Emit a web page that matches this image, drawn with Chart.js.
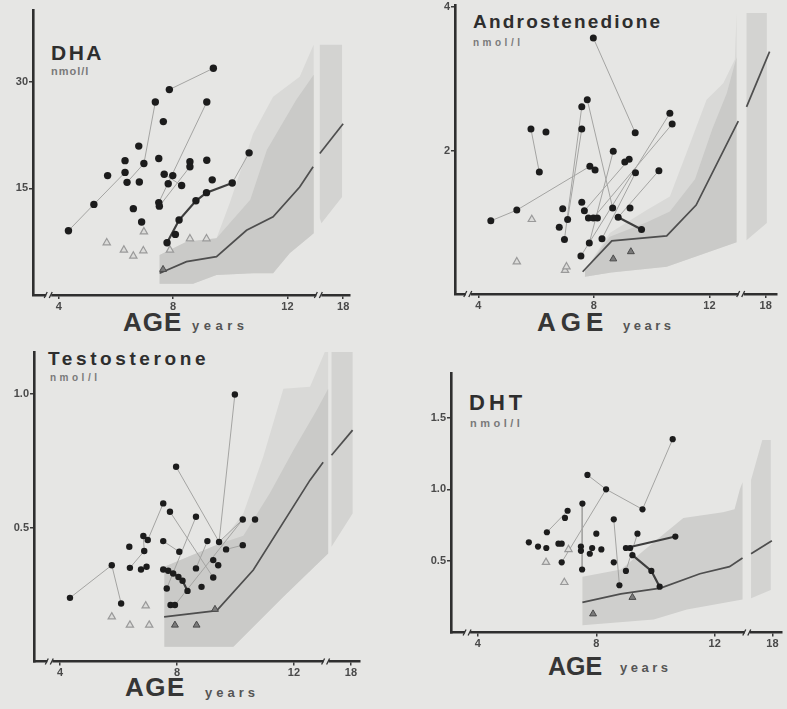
<!DOCTYPE html>
<html>
<head>
<meta charset="utf-8">
<script src="https://cdn.jsdelivr.net/npm/chart.js@4.4.1/dist/chart.umd.min.js"></script>
<style>
  html, body { margin: 0; padding: 0; }
  body { width: 787px; height: 709px; overflow: hidden; position: relative; background: #e6e6e4;
         font-family: "Liberation Sans", Arial, sans-serif; }
  canvas { position: absolute; }
  .lbl { position: absolute; font-weight: bold; white-space: nowrap; line-height: 1; }
  .title { color: #2e2e2e; }
  .unit { color: #7a7a7a; }
  .age { color: #363636; }
  .yrs { color: #555; }
</style>
</head>
<body>

<div class="lbl title" style="left:51px;top:42px;font-size:21px;letter-spacing:2.5px">DHA</div>
<div class="lbl unit"  style="left:51px;top:66px;font-size:11px;letter-spacing:1px">nmol/l</div>
<div class="lbl age"   style="left:123px;top:309px;font-size:26px;letter-spacing:1px">AGE</div>
<div class="lbl yrs"   style="left:192px;top:319px;font-size:13px;letter-spacing:4.5px">years</div>

<div class="lbl title" style="left:473px;top:12px;font-size:19px;letter-spacing:2.2px">Androstenedione</div>
<div class="lbl unit"  style="left:473px;top:38px;font-size:10px;letter-spacing:3.5px">nmol/l</div>
<div class="lbl age"   style="left:537px;top:309px;font-size:26px;letter-spacing:5px">AGE</div>
<div class="lbl yrs"   style="left:623px;top:319px;font-size:13px;letter-spacing:3.5px">years</div>

<div class="lbl title" style="left:48px;top:349px;font-size:19px;letter-spacing:3.6px">Testosterone</div>
<div class="lbl unit"  style="left:50px;top:373px;font-size:10px;letter-spacing:3.5px">nmol/l</div>
<div class="lbl age"   style="left:125px;top:674px;font-size:26px;letter-spacing:1.5px">AGE</div>
<div class="lbl yrs"   style="left:205px;top:686px;font-size:13px;letter-spacing:4px">years</div>

<div class="lbl title" style="left:469px;top:392px;font-size:22px;letter-spacing:4px">DHT</div>
<div class="lbl unit"  style="left:470px;top:418px;font-size:11px;letter-spacing:3.5px">nmol/l</div>
<div class="lbl age"   style="left:548px;top:654px;font-size:25px;letter-spacing:0px">AGE</div>
<div class="lbl yrs"   style="left:620px;top:661px;font-size:13px;letter-spacing:3.5px">years</div>

<canvas id="cDHA"></canvas>
<canvas id="cAND"></canvas>
<canvas id="cTES"></canvas>
<canvas id="cDHT"></canvas>

<script>
// ---------- shared age axis ----------
const xTickAges = [4, 8, 12, 18];
const xTickLabels = ['4', '8', '12', '18'];

// ---------- DHA (nmol/l) ----------
const dhaYTicks = [15, 30];
const dhaYLabels = ['15', '30'];
const dhaAge = [4.34, 5.23, 5.71, 6.32, 6.32, 6.39, 6.61, 6.80, 6.82, 6.98,
                6.90, 7.38, 7.66, 7.50, 7.50, 7.52, 7.69, 7.83, 7.87, 7.99,
                7.79, 8.08, 8.21, 8.30, 8.59, 8.59, 8.80, 9.17, 9.18, 9.18,
                9.37, 9.41, 10.07, 10.66];
const dhaVal = [9.05, 12.75, 16.8, 18.9, 17.25, 15.85, 12.15, 20.95, 15.9, 18.5,
                10.27, 27.15, 24.4, 19.2, 13.0, 12.5, 17.0, 15.65, 28.9, 16.8,
                7.36, 8.53, 10.55, 15.4, 18.75, 18.05, 13.26, 14.4, 18.95, 27.15,
                16.2, 31.9, 15.75, 20.0];
const dhaTracks = [[0, 1, 4], [5, 9, 11], [18, 31], [14, 29], [15, 25], [16, 23], [32, 33]];
const dhaTracksBold = [[20, 22, 26, 27, 32]];
const dhaTriAge = [5.68, 6.28, 6.61, 6.96, 6.98, 7.89, 8.59, 9.17];
const dhaTriVal = [7.36, 6.33, 5.49, 6.23, 8.9, 6.33, 7.92, 7.92];
const dhaTriDarkAge = [7.65];
const dhaTriDarkVal = [3.6];
const dhaMedianAge = [7.53, 8.47, 9.52, 10.57, 11.5, 12.43, 12.9];
const dhaMedianVal = [3.05, 4.7, 5.4, 9.1, 11.0, 15.2, 18.05];
const dhaAdultMedianAge = [13.7, 18.0];
const dhaAdultMedianVal = [19.9, 24.1];
const dhaRangeAge = [7.53, 7.53, 8.47, 9.52, 9.98, 10.80, 11.50, 12.43, 12.84, 12.92, 12.92, 12.84, 12.08, 11.50, 10.80, 9.52, 8.70, 7.53];
const dhaRangeVal = [1.6, 5.63, 7.5, 7.97, 12.9, 22.7, 27.9, 30.7, 34.5, 35.2, 8.7, 8.4, 5.86, 3.05, 3.05, 2.8, 1.6, 1.6];
const dhaCoreAge = [7.53, 7.53, 8.47, 9.52, 10.7, 11.28, 12.3, 12.92, 12.92, 12.84, 12.08, 11.50, 10.80, 9.52, 8.70, 7.53];
const dhaCoreVal = [1.6, 5.63, 7.5, 7.97, 13.4, 20.4, 27.4, 31.0, 8.7, 8.4, 5.86, 3.05, 3.05, 2.8, 1.6, 1.6];
const dhaAdultAge = [13.7, 17.8, 17.8, 14.0, 13.7, 13.7];
const dhaAdultVal = [35.2, 35.2, 13.8, 10.1, 10.8, 35.2];

// ---------- Androstenedione (nmol/l) ----------
const andYTicks = [2, 4];
const andYLabels = ['2', '4'];
const andAge = [4.43, 5.33, 5.82, 6.11, 6.34, 6.80, 6.92, 7.09, 6.98, 7.58,
                7.58, 7.77, 7.58, 7.67, 7.81, 7.98, 8.12, 7.86, 8.04, 7.98,
                7.55, 7.84, 8.28, 8.65, 8.84, 8.67, 9.07, 9.22, 9.25, 9.43,
                9.44, 9.65, 10.25, 10.63, 10.71];
const andVal = [1.02, 1.17, 2.30, 1.70, 2.26, 0.93, 1.19, 1.04, 0.76, 2.30,
                2.61, 2.71, 1.28, 1.16, 1.06, 1.06, 1.06, 1.78, 1.73, 3.57,
                0.53, 0.71, 0.77, 1.20, 1.07, 1.99, 1.84, 1.88, 1.20, 2.25,
                1.69, 0.90, 1.72, 2.52, 2.37];
const andTracks = [[0, 1, 17], [2, 3], [19, 29], [10, 8], [9, 7], [11, 23], [20, 33],
                   [21, 25], [22, 30], [13, 27], [24, 32], [15, 34]];
const andTracksBold = [[24, 31]];
const andTriAge = [5.85, 5.33, 7.0, 7.05];
const andTriVal = [1.04, 0.45, 0.33, 0.38];
const andTriDarkAge = [8.67, 9.28];
const andTriDarkVal = [0.49, 0.59];
const andMedianAge = [7.61, 8.62, 10.52, 11.54, 13.0];
const andMedianVal = [0.31, 0.74, 0.81, 1.24, 2.41];
const andAdultMedianAge = [14.5, 18.7];
const andAdultMedianVal = [2.61, 3.38];
const andRangeAge = [7.69, 7.69, 8.55, 9.83, 10.63, 11.33, 11.9, 12.48, 12.88, 12.94, 12.94, 10.52, 8.6, 7.69];
const andRangeVal = [0.24, 0.33, 0.85, 1.17, 1.36, 2.10, 2.71, 2.94, 3.27, 3.92, 0.72, 0.38, 0.3, 0.24];
const andCoreAge = [7.69, 7.69, 8.55, 9.83, 10.63, 11.5, 12.1, 12.6, 12.94, 12.94, 10.52, 8.6, 7.69];
const andCoreVal = [0.24, 0.33, 0.8, 1.0, 1.15, 1.6, 2.3, 2.8, 3.3, 0.72, 0.38, 0.3, 0.24];
const andAdultAge = [14.5, 18.2, 18.2, 14.5, 14.5];
const andAdultVal = [3.92, 3.92, 0.99, 0.75, 3.92];

// ---------- Testosterone (nmol/l) ----------
const tesYTicks = [0.5, 1.0];
const tesYLabels = ['0.5', '1.0'];
const tesAge = [4.34, 5.77, 6.09, 6.37, 6.39, 6.77, 6.96, 6.85, 7.00, 6.88,
                7.53, 7.53, 7.76, 7.53, 7.65, 7.78, 7.93, 7.97, 8.08, 8.36,
                8.65, 8.65, 8.84, 9.04, 9.24, 9.41, 9.24, 9.44, 9.68, 9.98,
                10.25, 10.25, 10.67, 7.70, 7.87, 8.05, 8.19];
const tesVal = [0.238, 0.36, 0.217, 0.429, 0.35, 0.344, 0.354, 0.469, 0.454, 0.413,
                0.591, 0.45, 0.56, 0.344, 0.273, 0.211, 0.211, 0.728, 0.41, 0.264,
                0.541, 0.348, 0.279, 0.45, 0.379, 0.36, 0.314, 0.447, 0.419, 0.998,
                0.531, 0.435, 0.531, 0.339, 0.329, 0.316, 0.302];
const tesTracks = [[0, 1, 2], [4, 9, 7], [8, 10], [12, 26], [17, 27], [29, 27],
                   [14, 20], [16, 30], [27, 30], [28, 31], [11, 18], [21, 23]];
const tesTracksBold = [[13, 33, 34, 35, 36, 19]];
const tesTriAge = [5.77, 6.39, 6.93, 7.05];
const tesTriVal = [0.167, 0.136, 0.208, 0.136];
const tesTriDarkAge = [7.93, 8.67, 9.3];
const tesTriDarkVal = [0.136, 0.136, 0.195];
const tesMedianAge = [7.56, 9.36, 10.61, 12.55, 13.0];
const tesMedianVal = [0.167, 0.19, 0.342, 0.678, 0.745];
const tesAdultMedianAge = [14.5, 18.3];
const tesAdultMedianVal = [0.771, 0.865];
const tesRangeAge = [7.57, 7.57, 9.47, 10.27, 10.95, 11.64, 12.55, 13.3, 13.9, 13.9, 11.64, 9.93, 7.57];
const tesRangeVal = [0.055, 0.354, 0.441, 0.553, 0.765, 1.02, 1.027, 1.157, 1.157, 0.404, 0.242, 0.055, 0.055];
const tesCoreAge = [7.57, 7.57, 9.47, 10.27, 11.18, 11.98, 12.78, 13.9, 13.9, 11.64, 9.93, 7.57];
const tesCoreVal = [0.055, 0.354, 0.441, 0.47, 0.63, 0.79, 0.94, 1.02, 0.404, 0.242, 0.055, 0.055];
const tesAdultAge = [14.5, 18.3, 18.3, 14.5, 14.5];
const tesAdultVal = [1.157, 1.157, 0.553, 0.429, 1.157];

// ---------- DHT (nmol/l) ----------
const dhtYTicks = [0.5, 1.0, 1.5];
const dhtYLabels = ['0.5', '1.0', '1.5'];
const dhtAge = [5.72, 6.03, 6.31, 6.33, 6.72, 6.83, 6.83, 6.94, 7.03, 7.48,
                7.48, 7.52, 7.53, 7.70, 7.78, 7.86, 8.0, 8.17, 8.33, 8.59,
                8.59, 8.78, 9.0, 9.0, 9.14, 9.22, 9.39, 9.56, 9.86, 10.14,
                10.58, 10.67];
const dhtVal = [0.63, 0.60, 0.59, 0.70, 0.62, 0.62, 0.49, 0.80, 0.85, 0.60,
                0.57, 0.44, 0.90, 1.10, 0.55, 0.59, 0.69, 0.58, 1.00, 0.79,
                0.49, 0.33, 0.43, 0.59, 0.59, 0.54, 0.69, 0.86, 0.43, 0.32,
                1.35, 0.67];
const dhtTracks = [[13, 18, 27, 30], [6, 18], [12, 11], [19, 21], [26, 22], [3, 8]];
const dhtTracksBold = [[23, 31], [25, 28, 29]];
const dhtTriAge = [6.3, 6.92, 7.06];
const dhtTriVal = [0.49, 0.35, 0.58];
const dhtTriDarkAge = [7.89, 9.22];
const dhtTriDarkVal = [0.13, 0.245];
const dhtMedianAge = [7.53, 8.83, 10.17, 11.5, 12.5, 12.94];
const dhtMedianVal = [0.21, 0.27, 0.31, 0.41, 0.46, 0.52];
const dhtAdultMedianAge = [14.2, 17.9];
const dhtAdultMedianVal = [0.55, 0.64];
const dhtRangeAge = [7.53, 7.53, 8.83, 9.94, 10.94, 12.28, 12.67, 12.85, 12.94, 12.94, 11.06, 9.94, 7.53];
const dhtRangeVal = [0.05, 0.39, 0.44, 0.63, 0.80, 0.84, 0.86, 1.0, 1.05, 0.23, 0.16, 0.09, 0.05];
const dhtAdultAge = [14.2, 16.2, 17.7, 17.7, 14.2, 14.2];
const dhtAdultVal = [1.065, 1.344, 1.344, 0.297, 0.239, 1.065];

// ---------- drawing ----------
const BG = '#e6e6e4';
const FONT = '"Liberation Sans", Arial, sans-serif';
const BREAK_AGE = 13;       // ages past the axis break are compressed
const BREAK_SCALE = 0.19;

function axisX(age) {
  return age <= BREAK_AGE ? age : BREAK_AGE + (age - BREAK_AGE) * BREAK_SCALE;
}
function pts(ages, vals) {
  return ages.map((a, i) => ({ x: axisX(a), y: vals[i] }));
}

const axisBreaks = {
  id: 'axisBreaks',
  afterDraw(chart) {
    const { ctx, chartArea, scales } = chart;
    const y = chartArea.bottom;
    [3.65, 13.1].forEach(v => {
      const px = scales.x.getPixelForValue(v);
      ctx.save();
      ctx.fillStyle = BG;
      ctx.fillRect(px - 2.5, y - 2.5, 5, 5);
      ctx.strokeStyle = '#333';
      ctx.lineWidth = 1.3;
      ctx.beginPath();
      ctx.moveTo(px - 4.5, y + 3); ctx.lineTo(px - 1.5, y - 3);
      ctx.moveTo(px + 0.5, y + 3); ctx.lineTo(px + 3.5, y - 3);
      ctx.stroke();
      ctx.restore();
    });
  }
};

function polygon(ages, vals, color, order) {
  return { data: pts(ages, vals), showLine: true, fill: 'shape', backgroundColor: color,
           borderColor: 'rgba(0,0,0,0)', borderWidth: 0, pointRadius: 0, order };
}
function line(ages, vals, color, width, order) {
  return { data: pts(ages, vals), showLine: true, fill: false, borderColor: color,
           borderWidth: width, pointRadius: 0, order };
}

function makePanel(p) {
  const cv = document.getElementById(p.id);
  const [bx, by, bw, bh] = p.box;
  const [pl, pt, pr, pb] = p.plot;
  cv.width = bw; cv.height = bh;
  cv.style.left = bx + 'px'; cv.style.top = by + 'px';

  const dots = pts(p.age, p.val);
  const ds = [];
  ds.push({ data: dots, pointRadius: p.dotR, pointBackgroundColor: '#1c1c1c',
            pointBorderColor: '#1c1c1c', pointBorderWidth: 0, showLine: false, order: 1 });
  ds.push({ data: pts(p.triDark[0], p.triDark[1]), pointStyle: 'triangle', pointRadius: 4,
            pointBackgroundColor: '#7a7a7a', pointBorderColor: '#4a4a4a', pointBorderWidth: 1,
            showLine: false, order: 2 });
  ds.push({ data: pts(p.tri[0], p.tri[1]), pointStyle: 'triangle', pointRadius: 4.2,
            pointBackgroundColor: '#dcdcda', pointBorderColor: '#9a9a9a', pointBorderWidth: 1.2,
            showLine: false, order: 2 });
  p.bold.forEach(t => ds.push({ data: t.map(i => dots[i]), showLine: true, fill: false,
            borderColor: '#3e3e3e', borderWidth: 2.2, pointRadius: 0, order: 3 }));
  p.tracks.forEach(t => ds.push({ data: t.map(i => dots[i]), showLine: true, fill: false,
            borderColor: '#a4a4a2', borderWidth: 1, pointRadius: 0, order: 4 }));
  ds.push(line(p.median[0], p.median[1], '#4e4e4e', 1.7, 5));
  ds.push(line(p.adultMedian[0], p.adultMedian[1], '#4e4e4e', 1.7, 5));
  if (p.core) ds.push(polygon(p.core[0], p.core[1], '#cacac8', 8));
  ds.push(polygon(p.range[0], p.range[1], p.core ? '#d9d9d7' : '#cfcfcd', 9));
  ds.push(polygon(p.adult[0], p.adult[1], '#d3d3d1', 9));

  const tickFont = { family: FONT, size: 11, weight: 'bold' };
  new Chart(cv, {
    type: 'scatter',
    data: { datasets: ds },
    options: {
      responsive: false, animation: false, devicePixelRatio: 1, events: [],
      layout: { padding: { left: 0, top: pt - by, right: bx + bw - pr, bottom: 0 } },
      plugins: { legend: { display: false }, tooltip: { enabled: false } },
      elements: { line: { tension: 0 } },
      scales: {
        x: {
          type: 'linear', min: p.xRange[0], max: p.xRange[1],
          afterBuildTicks: s => { s.ticks = xTickAges.map(a => ({ value: axisX(a) })); },
          afterFit: s => { s.height = by + bh - pb; },
          ticks: { callback: (v, i) => xTickLabels[i], color: '#4a4a4a', font: tickFont,
                   padding: 1, maxRotation: 0, autoSkip: false },
          grid: { drawOnChartArea: false, tickLength: 4, color: '#3a3a3a', lineWidth: 1.5 },
          border: { display: true, color: '#2f2f2f', width: 2.6 }
        },
        y: {
          type: 'linear', min: 0, max: p.yMax,
          afterBuildTicks: s => { s.ticks = p.yTicks.map(v => ({ value: v })); },
          afterFit: s => { s.width = pl - bx; },
          ticks: { callback: (v, i) => p.yLabels[i], color: '#4a4a4a', font: tickFont,
                   padding: 1, autoSkip: false },
          grid: { drawOnChartArea: false, tickLength: 4, color: '#3a3a3a', lineWidth: 1.5 },
          border: { display: true, color: '#2f2f2f', width: 2.6 }
        }
      }
    },
    plugins: [axisBreaks]
  });
}

makePanel({ id: 'cDHA', box: [0, 0, 390, 340], plot: [33, 10, 350, 295],
  xRange: [3.10, 14.19], yMax: 40.1, yTicks: dhaYTicks, yLabels: dhaYLabels, dotR: 3.7,
  age: dhaAge, val: dhaVal, tracks: dhaTracks, bold: dhaTracksBold,
  tri: [dhaTriAge, dhaTriVal], triDark: [dhaTriDarkAge, dhaTriDarkVal],
  median: [dhaMedianAge, dhaMedianVal], adultMedian: [dhaAdultMedianAge, dhaAdultMedianVal],
  range: [dhaRangeAge, dhaRangeVal], core: [dhaCoreAge, dhaCoreVal], adult: [dhaAdultAge, dhaAdultVal] });

makePanel({ id: 'cAND', box: [390, -12, 397, 352], plot: [455, 5, 777, 294],
  xRange: [3.19, 14.34], yMax: 4.03, yTicks: andYTicks, yLabels: andYLabels, dotR: 3.5,
  age: andAge, val: andVal, tracks: andTracks, bold: andTracksBold,
  tri: [andTriAge, andTriVal], triDark: [andTriDarkAge, andTriDarkVal],
  median: [andMedianAge, andMedianVal], adultMedian: [andAdultMedianAge, andAdultMedianVal],
  range: [andRangeAge, andRangeVal], core: [andCoreAge, andCoreVal], adult: [andAdultAge, andAdultVal] });

makePanel({ id: 'cTES', box: [0, 340, 390, 369], plot: [34, 352, 360, 661.5],
  xRange: [3.11, 14.26], yMax: 1.157, yTicks: tesYTicks, yLabels: tesYLabels, dotR: 3.2,
  age: tesAge, val: tesVal, tracks: tesTracks, bold: tesTracksBold,
  tri: [tesTriAge, tesTriVal], triDark: [tesTriDarkAge, tesTriDarkVal],
  median: [tesMedianAge, tesMedianVal], adultMedian: [tesAdultMedianAge, tesAdultMedianVal],
  range: [tesRangeAge, tesRangeVal], core: [tesCoreAge, tesCoreVal], adult: [tesAdultAge, tesAdultVal] });

makePanel({ id: 'cDHT', box: [390, 340, 397, 369], plot: [451, 373, 786, 632.5],
  xRange: [3.09, 14.26], yMax: 1.812, yTicks: dhtYTicks, yLabels: dhtYLabels, dotR: 3.1,
  age: dhtAge, val: dhtVal, tracks: dhtTracks, bold: dhtTracksBold,
  tri: [dhtTriAge, dhtTriVal], triDark: [dhtTriDarkAge, dhtTriDarkVal],
  median: [dhtMedianAge, dhtMedianVal], adultMedian: [dhtAdultMedianAge, dhtAdultMedianVal],
  range: [dhtRangeAge, dhtRangeVal], core: null, adult: [dhtAdultAge, dhtAdultVal] });
</script>
</body>
</html>
